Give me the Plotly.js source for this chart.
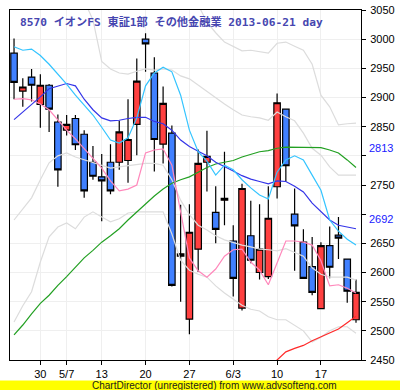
<!DOCTYPE html>
<html>
<head>
<meta charset="utf-8">
<script src="https://cdn.plot.ly/plotly-3.0.1.min.js"></script>
<style>
  html, body { margin: 0; padding: 0; background: #ffffff; }
  #chart { width: 400px; height: 390px; }
</style>
</head>
<body>
<div id="chart"></div>
<script>
// ---- data ----
const dates = ['2013-04-24','2013-04-25','2013-04-26','2013-04-30','2013-05-01','2013-05-02','2013-05-07','2013-05-08','2013-05-09','2013-05-10',
  '2013-05-13','2013-05-14','2013-05-15','2013-05-16','2013-05-17','2013-05-20','2013-05-21','2013-05-22','2013-05-23','2013-05-24',
  '2013-05-27','2013-05-28','2013-05-29','2013-05-30','2013-05-31','2013-06-03','2013-06-04','2013-06-05','2013-06-06','2013-06-07',
  '2013-06-10','2013-06-11','2013-06-12','2013-06-13','2013-06-14','2013-06-17','2013-06-18','2013-06-19','2013-06-20','2013-06-21'];
const openP  = [2976,2911,2935,2888,2921,2858,2844,2864,2837,2789, 2764,2789,2789,2792,2854,3000,2942,2820,2839,2628, 2520,2640,2789,2703,2724,2654,2539,2663,2600,2593, 2747,2880,2700,2652,2610,2538,2646,2664,2623,2519];
const highP  = [3001,2933,2949,2940,2923,2871,2870,2870,2844,2817, 2803,2820,2860,2897,2967,3010,2969,2919,2852,2716, 2717,2811,2843,2748,2807,2681,2752,2723,2717,2748, 2907,2881,2744,2674,2661,2652,2679,2695,2623,2588];
const lowP   = [2897,2884,2893,2848,2841,2747,2835,2810,2728,2759, 2688,2734,2776,2754,2801,2944,2773,2787,2576,2550, 2494,2601,2739,2650,2681,2559,2535,2616,2588,2589, 2727,2756,2603,2589,2561,2537,2590,2623,2548,2514];
const closeP = [2926,2918,2921,2921,2880,2776,2854,2819,2740,2765, 2757,2740,2841,2828,2928,2992,2828,2890,2578,2632, 2669,2787,2799,2674,2727,2590,2744,2621,2640,2693, 2891,2783,2680,2590,2566,2646,2609,2659,2568,2566];

const maCyan  = [2987,2981,2983,2972,2957,2940,2923,2904,2887,2870, 2849,2827,2822,2831,2865,2920,2942,2952,2944,2904, 2844,2807,2791,2767,2784,2776,2759,2745,2733,2726, 2772,2793,2800,2793,2767,2741,2690,2671,2657,2647];
const maBlue  = [2862,2875,2887,2901,2915,2920,2924,2920,2897,2879, 2865,2860,2861,2864,2866,2866,2859,2855,2844,2827, 2816,2808,2800,2789,2782,2774,2766,2760,2756,2752, 2757,2756,2748,2738,2719,2704,2690,2681,2678,2675];
const maPink  = [2897,2898,2896,2889,2879,2861,2844,2829,2812,2796, 2779,2757,2740,2743,2750,2805,2810,2812,2784,2704, 2625,2603,2592,2606,2628,2639,2640,2618,2604,2579, 2618,2654,2654,2652,2647,2620,2577,2579,2573,2565];
const maGreen = [2493,2510,2529,2547,2561,2578,2593,2609,2625,2638, 2652,2663,2675,2690,2704,2717,2731,2743,2753,2759, 2764,2772,2780,2786,2789,2792,2798,2803,2807,2809, 2813,2815,2815,2815,2815,2814,2810,2805,2793,2780];
const maRed   = [null,null,null,null,null,null,null,null,null,null, null,null,null,null,null,null,null,null,null,null, null,null,null,null,null,null,null,2422,2432,2441, 2450,2464,2470,2475,2483,2490,2497,2503,2514,2525];
const bandUp2 = [null,null,null,null,null,null,null,null,null,null, null,null,null,null,null,null,null,null,null,null, 3084,3059,3029,3011,2995,2987,2980,2981,2978,2976, 2993,2995,2988,2981,2957,2904,2884,2853,2855,2856];
const bandUp1 = [null,null,null,null,null,null,null,null,3066,3033, 2962,2949,2942,2940,2945,2949,2947,2949,2947,2937, 2932,2921,2911,2899,2889,2879,2870,2867,2865,2861, 2875,2867,2860,2839,2813,2801,2781,2767,2767,2767];
const bandLo1 = [2690,2709,2728,2759,2788,2800,2805,2798,2793,2788, 2783,2779,2781,2783,2784,2787,2787,2784,2759,2724, 2699,2681,2673,2663,2656,2651,2647,2644,2640,2639, 2637,2641,2635,2628,2608,2597,2592,2592,2592,2587];
const bandLo2 = [2515,2543,2567,2618,2661,2678,2685,2675,2695,2704, 2695,2687,2692,2702,2704,2704,2704,2704,2666,2621, 2604,2597,2592,2577,2565,2555,2544,2537,2534,2524, 2519,2519,2510,2500,2481,2489,2500,2507,2507,2496];

const xTickDates  = ['2013-04-30','2013-05-07','2013-05-13','2013-05-20','2013-05-27','2013-06-03','2013-06-10','2013-06-17'];
const xTickLabels = ['30','5/7','13','20','27','6/3','10','17'];
const yTickVals   = [2450,2500,2550,2600,2650,2700,2750,2800,2850,2900,2950,3000,3050];
const yTickLabels = ['2450','2500','2550','2600','2650','','2750','','2850','2900','2950','3000','3050'];
const markLevels  = [2813, 2692];
const titleText   = '8570 イオンFS 東証1部 その他金融業 2013-06-21 day';
const creditText  = 'ChartDirector (unregistered) from www.advsofteng.com';

// ---- traces ----
function line(y, color, w) {
  return { type: 'scatter', mode: 'lines', x: dates, y: y, connectgaps: false,
           line: { color: color, width: w || 1.2 }, hoverinfo: 'skip', showlegend: false };
}
const traces = [
  line(bandUp2, '#dcdcdc'), line(bandUp1, '#dcdcdc'), line(bandLo1, '#dcdcdc'), line(bandLo2, '#dcdcdc'),
  line(maGreen, '#22a022'), line(maRed, '#ff2a2a'), line(maPink, '#ff88bb'),
  line(maBlue, '#3535e8'), line(maCyan, '#33c4ff'),
  { type: 'candlestick', x: dates, open: openP, high: highP, low: lowP, close: closeP,
    increasing: { line: { color: '#000000', width: 1.2 }, fillcolor: '#ff4040' },
    decreasing: { line: { color: '#000000', width: 1.2 }, fillcolor: '#4080ff' },
    whiskerwidth: 0, showlegend: false, hoverinfo: 'skip' }
];

const annotations = [
  { xref: 'paper', yref: 'paper', x: 0.022, y: 0.966, xanchor: 'left', yanchor: 'middle', showarrow: false,
    text: '<b>' + titleText + '</b>',
    font: { family: 'DejaVu Sans Mono, Noto Sans CJK JP, monospace', size: 11.2, color: '#4646b0' } },
  { xref: 'paper', yref: 'paper', x: 0.584, y: -0.073, xanchor: 'center', yanchor: 'middle', showarrow: false,
    text: creditText, font: { family: 'Liberation Sans, Arial, sans-serif', size: 10, color: '#1a1a1a' } }
].concat(markLevels.map(v => ({
  xref: 'paper', yref: 'y', x: 1, y: v, xanchor: 'left', yanchor: 'middle', xshift: 6, showarrow: false,
  text: String(v), font: { family: 'Liberation Sans, Arial, sans-serif', size: 11, color: '#2020ff' }
})));

const layout = {
  width: 400, height: 390,
  margin: { l: 10, r: 39, t: 10, b: 30, pad: 0 },
  paper_bgcolor: '#ffffff', plot_bgcolor: '#ffffff',
  showlegend: false, boxgap: 0.18, boxgroupgap: 0.1,
  font: { family: 'Liberation Sans, Arial, sans-serif', size: 11, color: '#000000' },
  xaxis: {
    type: 'category', range: [-0.46, 39.57], rangeslider: { visible: false },
    tickmode: 'array', tickvals: xTickDates, ticktext: xTickLabels,
    ticks: 'outside', ticklen: 4, tickcolor: '#000000',
    showgrid: true, gridcolor: '#efefef', gridwidth: 1,
    showline: true, mirror: true, linecolor: '#000000', linewidth: 1,
    tickfont: { family: 'Liberation Sans, Arial, sans-serif', size: 11, color: '#000000' },
    fixedrange: true
  },
  yaxis: {
    side: 'right', range: [2450, 3050],
    tickmode: 'array', tickvals: yTickVals, ticktext: yTickLabels,
    ticks: 'outside', ticklen: 4, tickcolor: '#000000', ticklabelstandoff: 2,
    showgrid: true, gridcolor: '#efefef', gridwidth: 1, zeroline: false,
    showline: true, mirror: true, linecolor: '#000000', linewidth: 1,
    tickfont: { family: 'Liberation Sans, Arial, sans-serif', size: 11, color: '#000000' },
    fixedrange: true
  },
  shapes: [
    { type: 'rect', xref: 'paper', yref: 'paper', x0: -0.03, x1: 1.12, y0: -0.09, y1: -0.0586,
      fillcolor: '#ffff00', line: { width: 0 }, layer: 'below' }
  ],
  annotations: annotations
};

Plotly.newPlot('chart', traces, layout, { staticPlot: true, displayModeBar: false });
</script>
</body>
</html>
